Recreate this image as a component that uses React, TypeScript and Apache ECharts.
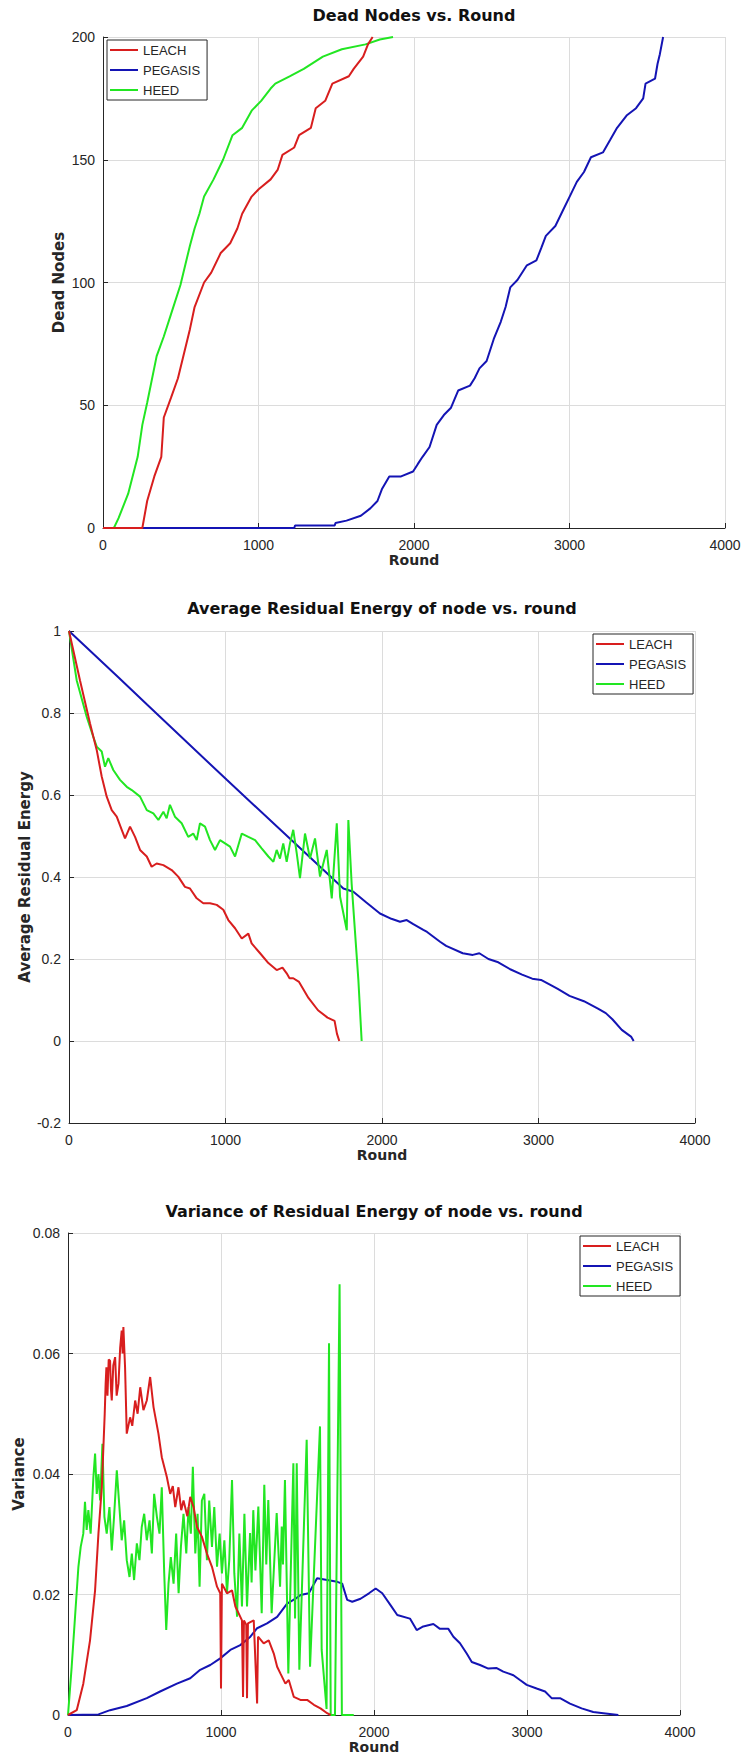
import React, { useEffect, useRef } from "react";
import * as echarts from "echarts";

// Shared axis values
const roundTicks = { min: 0, max: 4000, interval: 1000 };
const protocolNames = ["LEACH", "PEGASIS", "HEED"];
const protocolColors: Record<string, string> = {
  LEACH: "#d81e1e",
  PEGASIS: "#1414b4",
  HEED: "#22e622",
};

// Dead nodes per round
const deadLeach: [number, number][] = [
  [0, 0], [253, 0], [284, 11], [330, 21], [375, 29], [391, 45], [437, 53], [482, 61],
  [513, 69], [559, 81], [589, 90], [650, 100], [696, 104], [757, 112], [818, 116],
  [864, 122], [895, 128], [956, 135], [1001, 138], [1078, 142], [1124, 146], [1154, 152],
  [1230, 155], [1261, 160], [1337, 163], [1368, 171], [1429, 174], [1475, 181],
  [1581, 184], [1612, 187], [1673, 192], [1704, 197], [1734, 200],
];
const deadPegasis: [number, number][] = [
  [0, 0], [1230, 0], [1235, 1], [1490, 1], [1495, 2], [1566, 3], [1658, 5], [1719, 8],
  [1765, 11], [1795, 16], [1841, 21], [1917, 21], [1994, 23], [2024, 26], [2055, 29],
  [2100, 33], [2146, 42], [2192, 46], [2238, 49], [2284, 56], [2360, 58], [2390, 61],
  [2421, 65], [2467, 68], [2513, 77], [2558, 84], [2589, 90], [2619, 98], [2665, 101],
  [2726, 107], [2787, 109], [2818, 114], [2848, 119], [2909, 123], [2955, 129],
  [3001, 135], [3047, 141], [3093, 145], [3138, 151], [3215, 153], [3261, 158],
  [3306, 163], [3367, 168], [3428, 171], [3474, 175], [3489, 181], [3550, 183],
  [3566, 189], [3581, 193], [3602, 200],
];
const deadHeed: [number, number][] = [
  [0, 0], [70, 0], [100, 4], [162, 14], [223, 29], [253, 42], [284, 51], [345, 70],
  [391, 78], [437, 87], [498, 99], [559, 115], [589, 122], [620, 128], [650, 135],
  [711, 142], [772, 150], [833, 160], [895, 163], [956, 170], [1017, 174], [1078, 179],
  [1108, 181], [1200, 184], [1291, 187], [1414, 192], [1536, 195], [1688, 197],
  [1780, 199], [1865, 200],
];

// Average residual energy per round
const energyLeach: [number, number][] = [
  [0, 1], [70, 0.88], [134, 0.775], [177, 0.71], [209, 0.645], [241, 0.596], [273, 0.563],
  [305, 0.547], [337, 0.515], [358, 0.494], [390, 0.523], [422, 0.498], [454, 0.466],
  [497, 0.45], [528, 0.425], [560, 0.433], [603, 0.429], [656, 0.417], [698, 0.401],
  [741, 0.376], [773, 0.372], [816, 0.348], [858, 0.336], [901, 0.336], [944, 0.332],
  [986, 0.32], [1018, 0.295], [1061, 0.275], [1104, 0.25], [1146, 0.262], [1167, 0.238],
  [1221, 0.214], [1274, 0.19], [1327, 0.173], [1364, 0.179], [1391, 0.165], [1409, 0.153],
  [1433, 0.153], [1470, 0.144], [1530, 0.105], [1591, 0.075], [1652, 0.057],
  [1697, 0.049], [1712, 0.018], [1727, 0],
];
const energyPegasis: [number, number][] = [
  [0, 1], [315, 0.887], [500, 0.82], [1008, 0.637], [1500, 0.462], [1753, 0.372],
  [1817, 0.364], [1900, 0.338], [1987, 0.311], [2060, 0.298], [2115, 0.291], [2158, 0.295],
  [2200, 0.285], [2264, 0.271], [2288, 0.266], [2371, 0.242], [2410, 0.232], [2516, 0.214],
  [2580, 0.21], [2622, 0.214], [2680, 0.2], [2743, 0.192], [2819, 0.175], [2895, 0.162],
  [2960, 0.152], [3016, 0.149], [3070, 0.138], [3123, 0.127], [3198, 0.11], [3290, 0.097],
  [3380, 0.079], [3430, 0.068], [3472, 0.053], [3532, 0.027], [3593, 0.01], [3608, 0],
];
const energyHeed: [number, number][] = [
  [0, 1], [49, 0.88], [113, 0.791], [155, 0.742], [177, 0.718], [209, 0.706], [230, 0.669],
  [251, 0.69], [283, 0.661], [326, 0.637], [369, 0.62], [401, 0.612], [454, 0.596],
  [497, 0.563], [539, 0.555], [571, 0.539], [603, 0.559], [624, 0.543], [645, 0.576],
  [677, 0.547], [720, 0.531], [762, 0.498], [794, 0.506], [816, 0.49], [837, 0.531],
  [869, 0.523], [901, 0.49], [933, 0.466], [965, 0.49], [997, 0.482], [1029, 0.474],
  [1061, 0.45], [1104, 0.506], [1146, 0.498], [1189, 0.49], [1231, 0.47], [1274, 0.45],
  [1306, 0.437], [1327, 0.466], [1348, 0.445], [1369, 0.482], [1391, 0.437], [1412, 0.482],
  [1433, 0.515], [1455, 0.458], [1476, 0.397], [1508, 0.506], [1540, 0.445], [1572, 0.494],
  [1604, 0.401], [1647, 0.466], [1679, 0.348], [1711, 0.531], [1732, 0.352], [1775, 0.27],
  [1785, 0.539], [1806, 0.384], [1849, 0.149], [1870, 0],
];

// Variance of residual energy per round
const varianceLeach: [number, number][] = [
  [0, 0], [57, 0.0008], [100, 0.0052], [144, 0.0124], [177, 0.0207], [199, 0.0301],
  [221, 0.0378], [240, 0.05], [246, 0.055], [251, 0.0577], [258, 0.053], [266, 0.059],
  [275, 0.0588], [281, 0.054], [286, 0.0522], [296, 0.058], [308, 0.0594], [318, 0.053],
  [330, 0.055], [341, 0.061], [351, 0.0638], [357, 0.06], [362, 0.0644], [373, 0.0577],
  [384, 0.0467], [406, 0.0494], [420, 0.048], [439, 0.0522], [455, 0.05], [472, 0.0544],
  [493, 0.0506], [515, 0.0522], [537, 0.0561], [559, 0.0511], [591, 0.0467], [613, 0.0428],
  [646, 0.0395], [668, 0.0367], [685, 0.038], [701, 0.0345], [722, 0.0378], [740, 0.034],
  [755, 0.0356], [780, 0.033], [799, 0.0362], [821, 0.0345], [843, 0.0312], [875, 0.0296],
  [908, 0.0268], [941, 0.0246], [974, 0.0213], [995, 0.0202], [1000, 0.0044],
  [1006, 0.0218], [1039, 0.0202], [1072, 0.0207], [1094, 0.018], [1137, 0.0157],
  [1144, 0.003], [1150, 0.0157], [1165, 0.015], [1170, 0.0028], [1176, 0.0152],
  [1214, 0.0157], [1236, 0.0019], [1242, 0.013], [1279, 0.0119], [1312, 0.0124],
  [1345, 0.0102], [1367, 0.008], [1388, 0.0069], [1421, 0.0052], [1443, 0.0058],
  [1476, 0.003], [1519, 0.0025], [1563, 0.0025], [1607, 0.0017], [1650, 0.0011],
  [1694, 0.0003], [1716, 0],
];
const variancePegasis: [number, number][] = [
  [0, 0], [199, 0.0001], [275, 0.0008], [384, 0.0015], [515, 0.0028], [602, 0.0039],
  [712, 0.0052], [799, 0.0061], [864, 0.0075], [930, 0.0083], [995, 0.0094],
  [1061, 0.0108], [1126, 0.0116], [1192, 0.013], [1236, 0.0144], [1301, 0.0152],
  [1367, 0.0163], [1432, 0.0185], [1487, 0.0193], [1519, 0.0199], [1574, 0.0202],
  [1628, 0.0227], [1694, 0.0224], [1760, 0.0221], [1792, 0.0218], [1825, 0.0191],
  [1858, 0.0188], [1912, 0.0193], [1967, 0.0202], [2011, 0.021], [2054, 0.0202],
  [2109, 0.0182], [2152, 0.0166], [2235, 0.016], [2279, 0.0141], [2322, 0.0147],
  [2388, 0.0151], [2431, 0.0143], [2486, 0.0143], [2519, 0.013], [2562, 0.0119],
  [2606, 0.0102], [2639, 0.0088], [2693, 0.0083], [2747, 0.0077], [2802, 0.0078],
  [2845, 0.0072], [2911, 0.0066], [2954, 0.0058], [2998, 0.005], [3063, 0.0044],
  [3118, 0.0039], [3161, 0.0028], [3216, 0.0028], [3281, 0.0019], [3357, 0.0011],
  [3433, 0.0005], [3499, 0.0003], [3597, 0],
];
const varianceHeed: [number, number][] = [
  [0, 0], [24, 0.008], [46, 0.0163], [68, 0.0246], [83, 0.0279], [100, 0.0301],
  [111, 0.0354], [122, 0.0307], [133, 0.034], [148, 0.0301], [166, 0.0395], [177, 0.0434],
  [188, 0.0367], [199, 0.04], [210, 0.0356], [225, 0.045], [238, 0.0329], [253, 0.0301],
  [271, 0.0345], [286, 0.0273], [301, 0.0329], [319, 0.0406], [336, 0.0345], [351, 0.029],
  [367, 0.0323], [384, 0.0257], [402, 0.0229], [417, 0.0268], [432, 0.0224], [450, 0.0285],
  [467, 0.0257], [482, 0.0312], [498, 0.0334], [515, 0.029], [533, 0.0323], [548, 0.0268],
  [563, 0.0367], [581, 0.0329], [598, 0.0301], [613, 0.0378], [629, 0.0235], [642, 0.0141],
  [657, 0.0218], [672, 0.0262], [690, 0.0218], [707, 0.0301], [723, 0.0202], [738, 0.0279],
  [755, 0.0334], [773, 0.0268], [788, 0.0345], [803, 0.0301], [816, 0.0412], [832, 0.0268],
  [847, 0.0334], [860, 0.0213], [875, 0.0356], [891, 0.0367], [908, 0.0257], [923, 0.0356],
  [941, 0.0279], [956, 0.0345], [974, 0.0246], [991, 0.0301], [1006, 0.0235], [1022, 0.029],
  [1039, 0.0202], [1054, 0.0257], [1072, 0.039], [1087, 0.0235], [1105, 0.0163],
  [1120, 0.0301], [1137, 0.018], [1153, 0.0334], [1170, 0.018], [1190, 0.0302],
  [1200, 0.022], [1211, 0.034], [1225, 0.024], [1244, 0.0346], [1266, 0.0169],
  [1283, 0.0382], [1296, 0.025], [1309, 0.0357], [1331, 0.0169], [1364, 0.0335],
  [1386, 0.0213], [1397, 0.0313], [1405, 0.025], [1418, 0.039], [1440, 0.0069],
  [1473, 0.0418], [1484, 0.016], [1495, 0.0418], [1512, 0.0075], [1560, 0.0457],
  [1582, 0.008], [1647, 0.0479], [1658, 0.0108], [1690, 0.001], [1706, 0.0617],
  [1717, 0], [1745, 0], [1775, 0.0715], [1790, 0], [1868, 0],
];

const TEXT = "#262626";
const GRID_LINE = "#dcdcdc";

const chartTitles = [
  "Dead Nodes vs. Round",
  "Average Residual Energy of node vs. round",
  "Variance of Residual Energy of node vs. round",
];
const yAxisNames = ["Dead Nodes", "Average Residual Energy", "Variance"];

const grids = [
  { left: 103, top: 37, width: 622, height: 491 },
  { left: 69, top: 631, width: 626, height: 492 },
  { left: 68, top: 1233, width: 612, height: 482 },
];
const titleY = [15, 608, 1211];
const legendPos = [
  { left: 107, top: 40 },
  { left: 593, top: 634 },
  { left: 580, top: 1236 },
];
const yRanges = [
  { min: 0, max: 200, interval: 50 },
  { min: -0.2, max: 1, interval: 0.2 },
  { min: 0, max: 0.08, interval: 0.02 },
];
const yNameGaps = [37, 37, 42];

const panelData = [
  { LEACH: deadLeach, PEGASIS: deadPegasis, HEED: deadHeed },
  { LEACH: energyLeach, PEGASIS: energyPegasis, HEED: energyHeed },
  { LEACH: varianceLeach, PEGASIS: variancePegasis, HEED: varianceHeed },
];

// Drawing order: blue underneath, then green, red on top
const drawOrder: Record<string, number> = { PEGASIS: 2, HEED: 3, LEACH: 4 };

function buildOption() {
  const xAxis = grids.map((_, i) => ({
    type: "value",
    gridIndex: i,
    ...roundTicks,
    name: "Round",
    nameLocation: "middle",
    nameGap: 25,
    nameMoveOverlap: false,
    nameTextStyle: { fontFamily: "DejaVu Sans", fontWeight: "bold", fontSize: 14, color: TEXT },
    axisLine: { show: true, onZero: false, lineStyle: { color: TEXT, width: 1 } },
    axisTick: { show: true, inside: true, length: 5, lineStyle: { color: TEXT } },
    axisLabel: {
      margin: 10,
      fontFamily: "Liberation Sans",
      fontSize: 14,
      color: TEXT,
      formatter: (v: number) => String(v),
    },
    splitLine: { show: true, lineStyle: { color: GRID_LINE, width: 1 } },
  }));
  const yAxis = grids.map((_, i) => ({
    type: "value",
    gridIndex: i,
    ...yRanges[i],
    name: yAxisNames[i],
    nameLocation: "middle",
    nameGap: yNameGaps[i],
    nameMoveOverlap: false,
    nameTextStyle: { fontFamily: "DejaVu Sans", fontWeight: "bold", fontSize: 15, color: TEXT },
    axisLine: { show: true, lineStyle: { color: TEXT, width: 1 } },
    axisTick: { show: true, inside: true, length: 5, lineStyle: { color: TEXT } },
    axisLabel: { margin: 8, fontFamily: "Liberation Sans", fontSize: 14, color: TEXT },
    splitLine: { show: true, lineStyle: { color: GRID_LINE, width: 1 } },
  }));
  const series: any[] = [];
  panelData.forEach((panel, i) => {
    protocolNames.forEach((name) => {
      series.push({
        type: "line",
        name,
        xAxisIndex: i,
        yAxisIndex: i,
        data: (panel as any)[name],
        showSymbol: false,
        symbol: "none",
        z: drawOrder[name],
        color: protocolColors[name],
        lineStyle: { color: protocolColors[name], width: 2 },
      });
    });
  });
  const legend = legendPos.map((p) => ({
    orient: "vertical",
    left: p.left,
    top: p.top,
    data: protocolNames,
    icon: "rect",
    itemWidth: 28,
    itemHeight: 2,
    itemGap: 6,
    padding: [3, 7, 3, 3],
    borderColor: TEXT,
    borderWidth: 1,
    backgroundColor: "#ffffff",
    selectedMode: false,
    textStyle: { fontFamily: "Liberation Sans", fontSize: 13, color: TEXT, lineHeight: 14 },
    z: 10,
  }));
  const graphic = chartTitles.map((text, i) => ({
    type: "text",
    x: grids[i].left + grids[i].width / 2,
    y: titleY[i],
    style: {
      text,
      font: 'bold 16px "DejaVu Sans"',
      fill: "#111111",
      align: "center",
      verticalAlign: "middle",
    },
  }));
  return {
    animation: false,
    backgroundColor: "#ffffff",
    grid: grids.map((g) => ({ ...g, containLabel: false })),
    xAxis,
    yAxis,
    legend,
    series,
    graphic,
  };
}

export default function App() {
  const ref = useRef<HTMLDivElement>(null);
  useEffect(() => {
    if (!ref.current) return;
    const chart = echarts.init(ref.current, null, { renderer: "svg" });
    chart.setOption(buildOption() as any);
    return () => chart.dispose();
  }, []);
  return (
    <div
      ref={ref}
      style={{ position: "absolute", left: 0, top: 0, width: 744, height: 1760, background: "#fff" }}
    />
  );
}
